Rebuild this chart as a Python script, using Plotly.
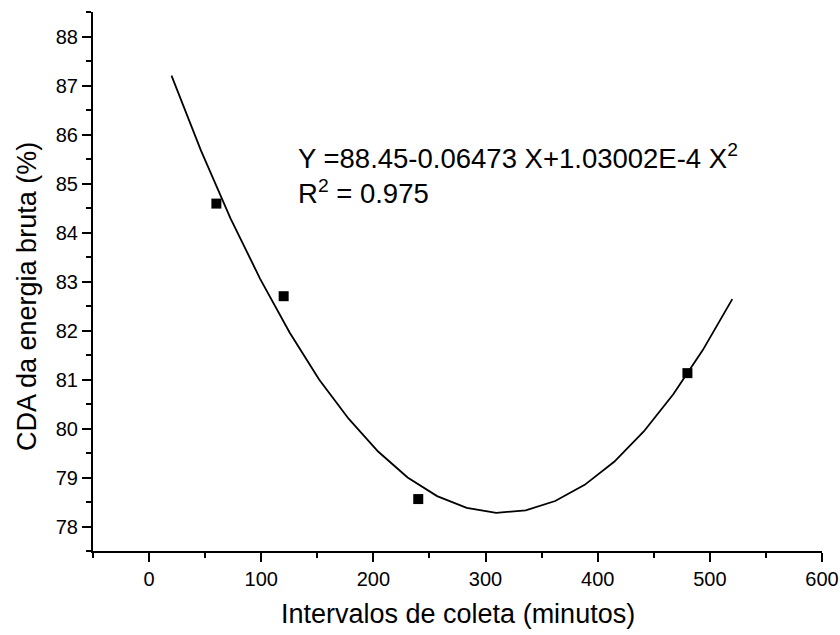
import plotly.graph_objects as go

# Observed data
obs_x = [60, 120, 240, 480]
obs_y = [84.59, 82.70, 78.56, 81.13]

# Fitted curve vertices
fit_x = [20, 46.3, 72.6, 98.9, 125.3, 151.6, 177.9, 204.2, 230.5, 256.8,
         283.2, 309.5, 335.8, 362.1, 388.4, 414.7, 441.1, 467.4, 493.7, 520]
fit_y = [87.20, 85.67, 84.29, 83.06, 81.96, 81.00, 80.20, 79.53, 79.00, 78.62,
         78.38, 78.28, 78.33, 78.52, 78.85, 79.32, 79.94, 80.70, 81.60, 82.64]

x_ticks = [0, 100, 200, 300, 400, 500, 600]
y_ticks = [78, 79, 80, 81, 82, 83, 84, 85, 86, 87, 88]

FONT = "Arial, Liberation Sans, sans-serif"

fig = go.Figure()
fig.add_trace(go.Scatter(x=fit_x, y=fit_y, mode="lines",
                         line=dict(color="black", width=1.8), showlegend=False))
fig.add_trace(go.Scatter(x=obs_x, y=obs_y, mode="markers",
                         marker=dict(symbol="square", size=10, color="black"),
                         showlegend=False))

fig.update_layout(
    width=840, height=635,
    margin=dict(l=93, r=18, t=12, b=84),
    paper_bgcolor="white", plot_bgcolor="white",
    font=dict(family=FONT, color="black"),
    xaxis=dict(range=[-50, 600], tickvals=x_ticks, ticktext=[str(v) for v in x_ticks],
               automargin=False,
               ticks="outside", ticklen=9, tickwidth=2, tickcolor="black",
               showline=True, linecolor="black", linewidth=2,
               showgrid=False, zeroline=False,
               tickfont=dict(size=20, family=FONT),
               minor=dict(dtick=50, tick0=0, ticks="outside", ticklen=5, tickwidth=2,
                          tickcolor="black", showgrid=False)),
    yaxis=dict(range=[77.5, 88.5], tickvals=y_ticks, ticktext=[str(v) for v in y_ticks],
               automargin=False,
               ticks="outside", ticklen=9, tickwidth=2, tickcolor="black",
               showline=True, linecolor="black", linewidth=2,
               showgrid=False, zeroline=False,
               tickfont=dict(size=20, family=FONT),
               minor=dict(dtick=0.5, tick0=0, ticks="outside", ticklen=5, tickwidth=2,
                          tickcolor="black", showgrid=False)),
    annotations=[
        dict(text="Y =88.45-0.06473 X+1.03002E-4 X<sup>2</sup><br>R<sup>2</sup> = 0.975",
             xref="x", yref="y", x=131, y=85.2, xanchor="left", yanchor="middle",
             align="left", showarrow=False, font=dict(size=27.5, family=FONT)),
        dict(text="Intervalos de coleta (minutos)", xref="paper", yref="paper",
             x=0.5, y=-(614 - 551) / 539, xanchor="center", yanchor="middle",
             showarrow=False, font=dict(size=27, family=FONT)),
        dict(text="CDA da energia bruta (%)", xref="paper", yref="paper",
             x=-(93 - 27) / 729, y=1 - (297 - 12) / 539, xanchor="center", yanchor="middle",
             textangle=-90, showarrow=False, font=dict(size=27, family=FONT)),
    ],
)

fig.write_html("out.html", config={"displayModeBar": False},
               post_script="document.body.style.margin='0';")
